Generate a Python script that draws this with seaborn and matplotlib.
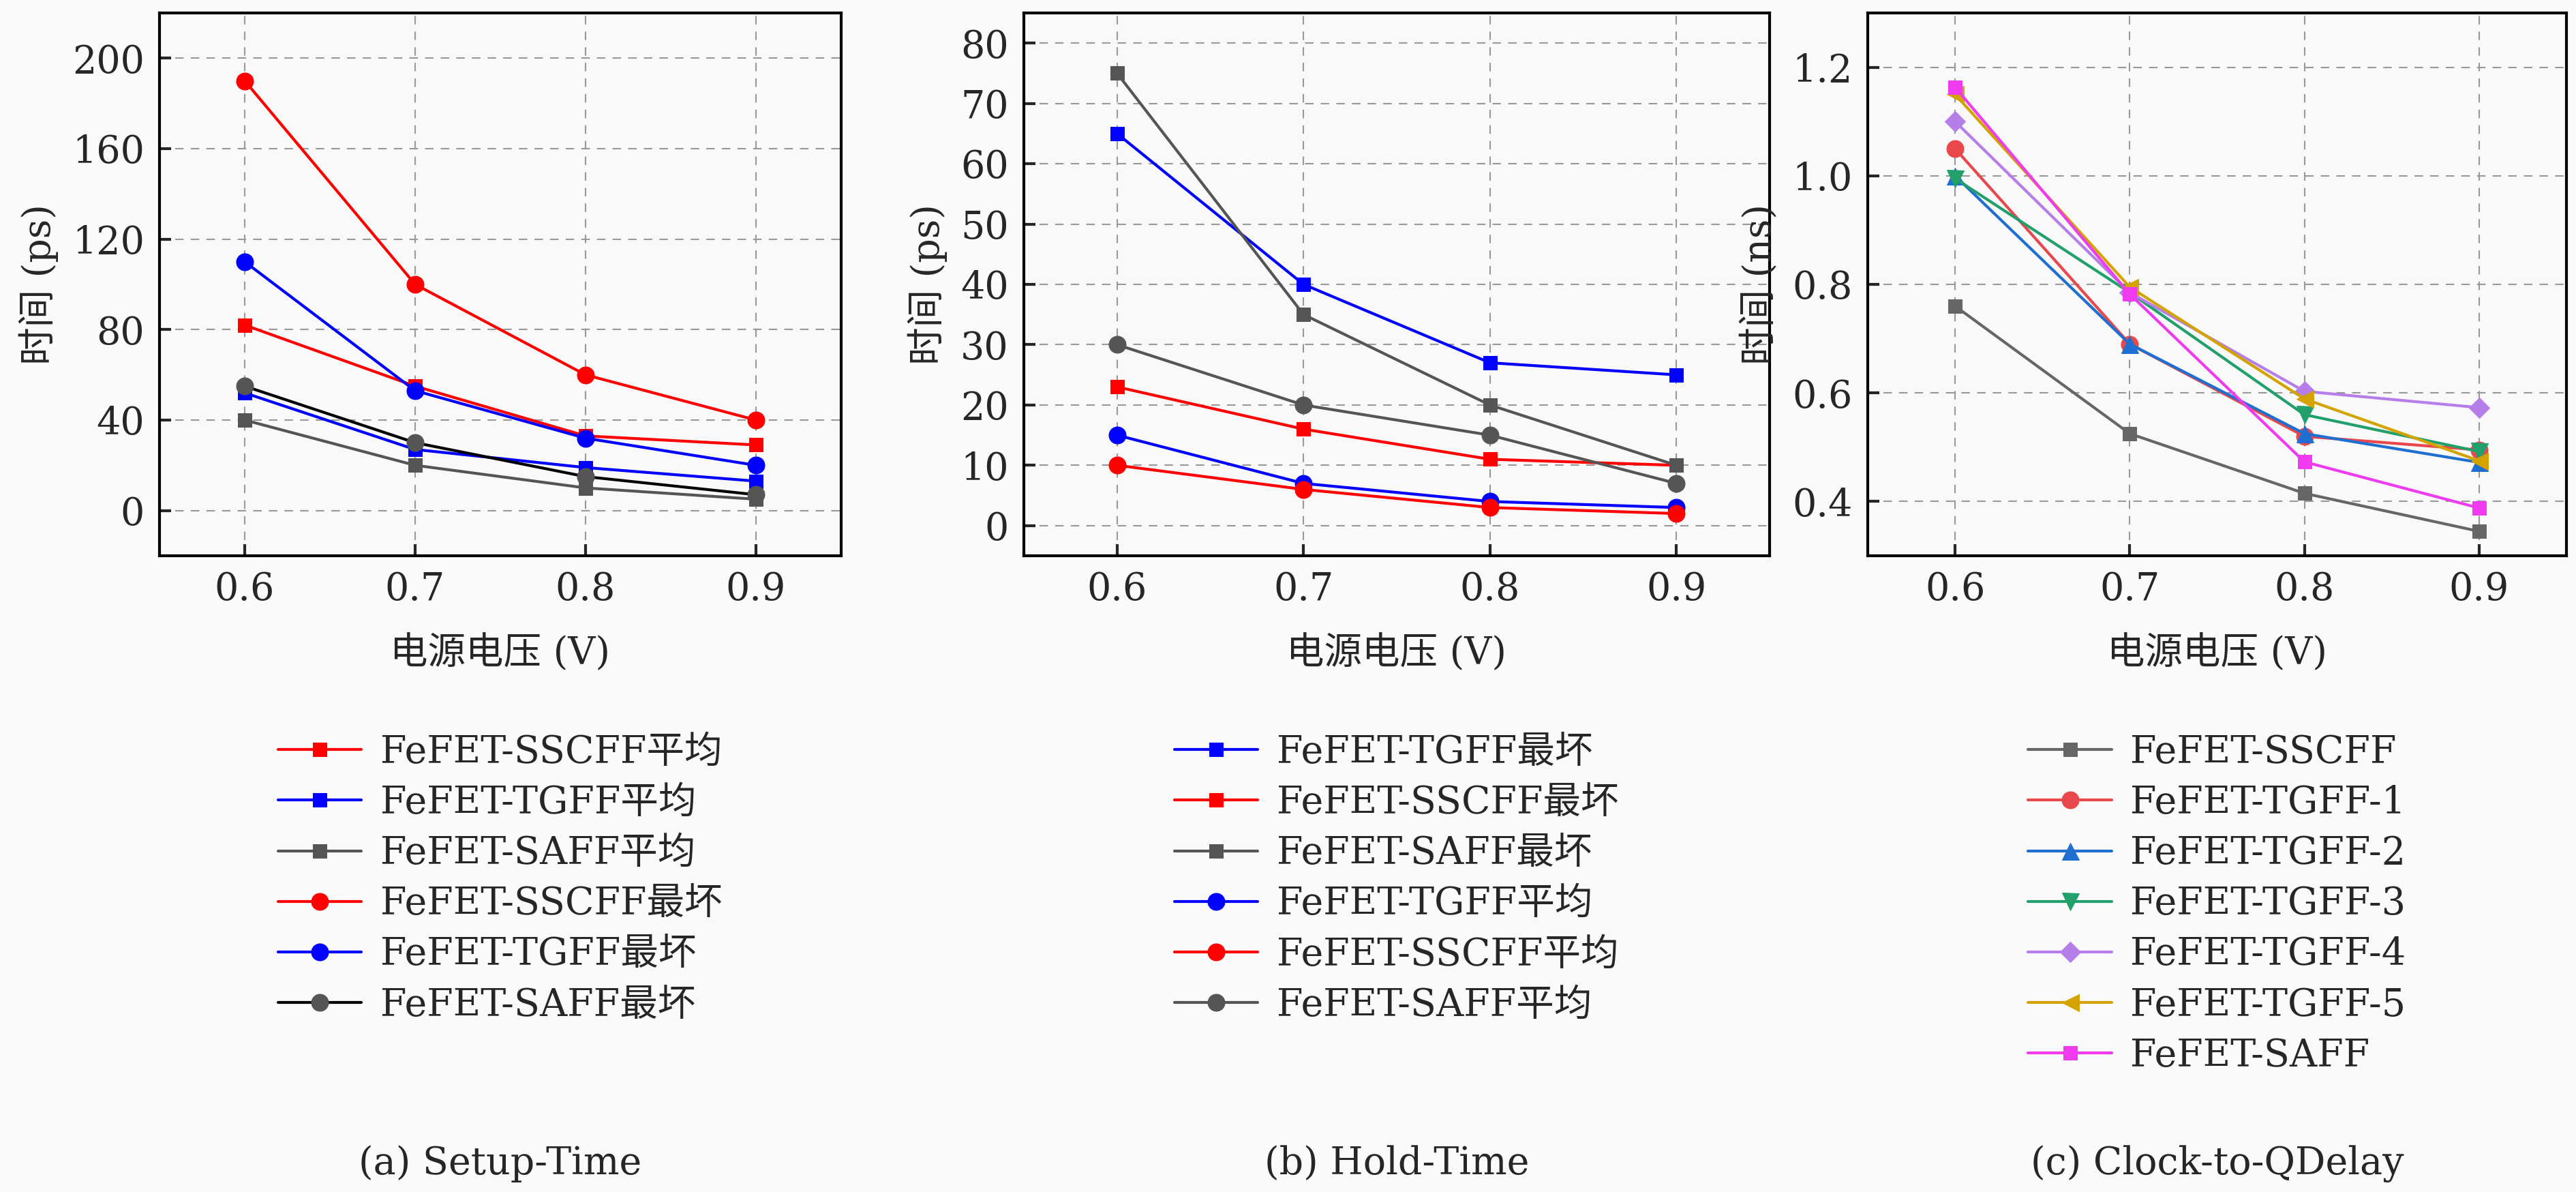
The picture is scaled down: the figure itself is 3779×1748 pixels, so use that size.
import matplotlib
matplotlib.use("Agg")
import matplotlib.pyplot as plt
import seaborn as sns
import pandas as pd

volt = [0.6, 0.7, 0.8, 0.9]

# (a) Setup-Time (ps)
a_names = ["FeFET-SSCFF平均", "FeFET-TGFF平均", "FeFET-SAFF平均",
           "FeFET-SSCFF最坏", "FeFET-TGFF最坏", "FeFET-SAFF最坏"]
a_sscff_avg = [82, 55, 33, 29]
a_tgff_avg = [52, 27, 19, 13]
a_saff_avg = [40, 20, 10, 5]
a_sscff_worst = [190, 100, 60, 40]
a_tgff_worst = [110, 53, 32, 20]
a_saff_worst = [55, 30, 15, 7]

# (b) Hold-Time (ps)
b_names = ["FeFET-TGFF最坏", "FeFET-SSCFF最坏", "FeFET-SAFF最坏",
           "FeFET-TGFF平均", "FeFET-SSCFF平均", "FeFET-SAFF平均"]
b_tgff_worst = [65, 40, 27, 25]
b_sscff_worst = [23, 16, 11, 10]
b_saff_worst = [75, 35, 20, 10]
b_tgff_avg = [15, 7, 4, 3]
b_sscff_avg = [10, 6, 3, 2]
b_saff_avg = [30, 20, 15, 7]

# (c) Clock-to-Q Delay (ns)
c_names = ["FeFET-SSCFF", "FeFET-TGFF-1", "FeFET-TGFF-2", "FeFET-TGFF-3",
           "FeFET-TGFF-4", "FeFET-TGFF-5", "FeFET-SAFF"]
c_sscff = [0.76, 0.525, 0.415, 0.345]
c_tgff1 = [1.05, 0.69, 0.52, 0.495]
c_tgff2 = [1.0, 0.69, 0.525, 0.472]
c_tgff3 = [0.995, 0.785, 0.56, 0.492]
c_tgff4 = [1.1, 0.785, 0.603, 0.573]
c_tgff5 = [1.15, 0.795, 0.589, 0.475]
c_saff = [1.163, 0.782, 0.473, 0.388]

sns.set_theme(style="ticks")
plt.rcParams['font.family'] = ['DejaVu Serif', 'Noto Sans CJK SC']
plt.rcParams['axes.unicode_minus'] = False

fig = plt.figure(figsize=(37.8, 17.48), dpi=100, facecolor='#fafafa')
axes = [fig.add_axes([234/3780, 1 - 815/1748, 1000/3780, 796/1748]),
        fig.add_axes([1502/3780, 1 - 815/1748, 1094/3780, 796/1748]),
        fig.add_axes([2740/3780, 1 - 815/1748, 1025/3780, 796/1748])]

FS = 40

def draw(ax, names, series, styles):
    for n, v, (c, m, ms) in zip(names, series, styles):
        df = pd.DataFrame({"x": volt, "y": v})
        fc = c if c != 'black' else '#555555'
        sns.lineplot(data=df, x="x", y="y", ax=ax, color=c, marker=m,
                     markersize=ms, markeredgecolor=fc, markerfacecolor=fc,
                     linewidth=3, label=n)

red, blue, gray = '#ff0000', '#0000ff', '#555555'
draw(axes[0], a_names,
     [a_sscff_avg, a_tgff_avg, a_saff_avg, a_sscff_worst, a_tgff_worst, a_saff_worst],
     [(red, 's', 15), (blue, 's', 15), (gray, 's', 15),
      (red, 'o', 18), (blue, 'o', 18), ('black', 'o', 18)])
draw(axes[1], b_names,
     [b_tgff_worst, b_sscff_worst, b_saff_worst, b_tgff_avg, b_sscff_avg, b_saff_avg],
     [(blue, 's', 15), (red, 's', 15), (gray, 's', 15),
      (blue, 'o', 18), (red, 'o', 18), (gray, 'o', 18)])
draw(axes[2], c_names,
     [c_sscff, c_tgff1, c_tgff2, c_tgff3, c_tgff4, c_tgff5, c_saff],
     [('#666666', 's', 15), ('#e8474c', 'o', 18), ('#1f6fd0', '^', 18),
      ('#22a06b', 'v', 18), ('#b57ee8', 'D', 15), ('#d4a300', '<', 18),
      ('#ee3bee', 's', 15)])

cfg = [((-20, 220), [0, 40, 80, 120, 160, 200], "时间 (ps)", "(a) Setup-Time"),
       ((-5, 85), list(range(0, 81, 10)), "时间 (ps)", "(b) Hold-Time"),
       ((0.3, 1.3), [0.4, 0.6, 0.8, 1.0, 1.2], "时间 (ns)", "(c) Clock-to-QDelay")]
for ax, (yl, yt, ylab, cap) in zip(axes, cfg):
    ax.set_facecolor('#f9f9f9')
    ax.set_xlim(0.55, 0.95)
    ax.set_ylim(*yl)
    ax.set_xticks(volt)
    ax.set_yticks(yt)
    if yl[1] < 2:
        ax.set_yticklabels([f"{t:.1f}" for t in yt])
    ax.set_xticklabels([f"{t:.1f}" for t in volt])
    ax.grid(True, linestyle=(0, (6, 5)), color='#999999', linewidth=1.5)
    for s in ax.spines.values():
        s.set_linewidth(3)
        s.set_color('black')
    ax.tick_params(labelsize=FS, direction='in', length=12, width=3, pad=16)
    ax.set_xlabel("电源电压 (V)", fontsize=FS, labelpad=28)
    ax.set_ylabel(ylab, fontsize=FS, labelpad=14)
    ax.legend(loc='upper center', bbox_to_anchor=(0.5, -0.3), frameon=False,
              fontsize=FS, handlelength=2.2, labelspacing=0.35, handletextpad=0.5,
              borderaxespad=0)
    ax.text(0.5, -1.12, cap, transform=ax.transAxes, ha='center', va='center',
            fontsize=FS)

fig.savefig("out.png", dpi=100, facecolor=fig.get_facecolor())
